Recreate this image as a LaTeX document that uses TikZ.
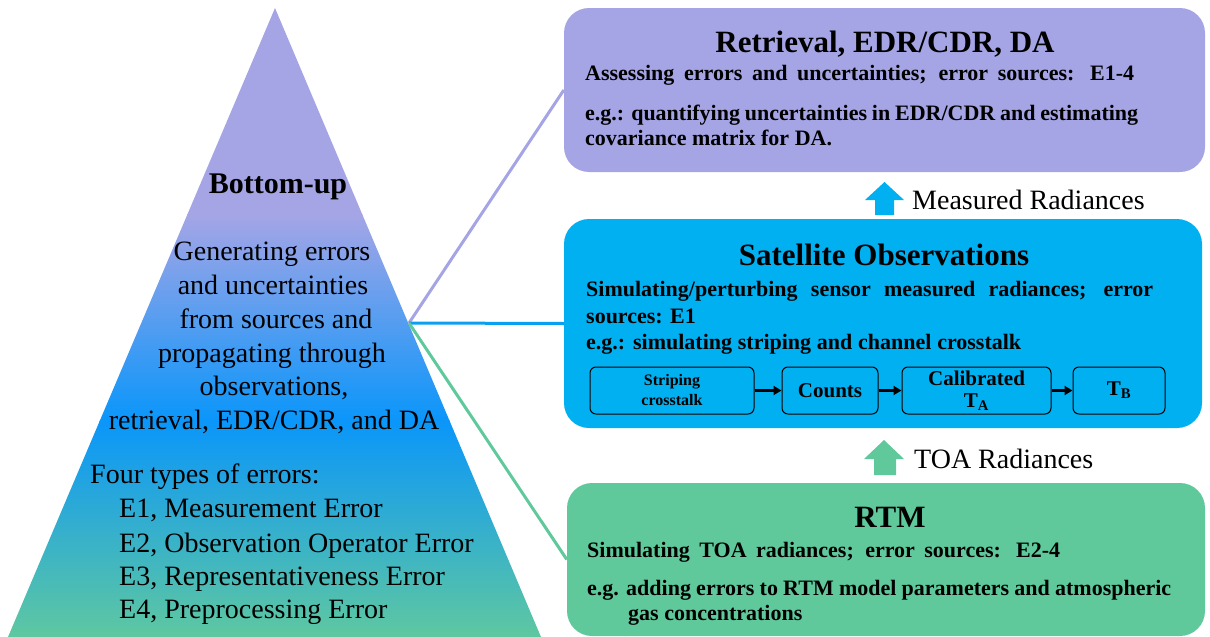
\documentclass[tikz,border=0pt]{standalone}
\usepackage{fontspec}
\setmainfont{Liberation Serif}
\usetikzlibrary{arrows.meta}
\definecolor{cpur}{RGB}{165,165,230}
\definecolor{cblue}{RGB}{0,176,240}
\definecolor{cgreen}{RGB}{95,201,156}
\definecolor{tblue}{RGB}{10,150,250}
\definecolor{tgreen}{RGB}{95,200,160}
\definecolor{lblue}{RGB}{10,160,240}
\newcommand{\fillto}[2]{\makebox[#1][s]{#2}}
\begin{document}
\begin{tikzpicture}[x=1pt,y=-1pt,
  bigbox/.style={rounded corners=25pt, inner sep=0pt},
  title/.style={font=\fontsize{31}{36}\selectfont\bfseries, anchor=base, inner sep=0pt},
  body/.style={font=\fontsize{22}{26}\selectfont\bfseries, anchor=base west, inner sep=0pt},
  tri/.style={font=\fontsize{28}{33}\selectfont, anchor=base, inner sep=0pt},
  trl/.style={font=\fontsize{28}{33}\selectfont, anchor=base west, inner sep=0pt},
  small/.style={draw=black, line width=1pt, rounded corners=6pt, fill=cblue, minimum height=47pt, inner sep=0pt, align=center, font=\fontsize{21}{23}\selectfont\bfseries},
  flow/.style={-{Triangle[length=8pt,width=9pt]}, line width=2.5pt},
  conn/.style={line width=3pt}]
\useasboundingbox (0,0) rectangle (1210,637);
% triangle
\begin{scope}
\clip (275,8) -- (541,637) -- (8,637) -- cycle;
\fill[cpur] (0,0) rectangle (560,215);
\shade[top color=cpur,bottom color=tblue] (0,214) rectangle (560,421);
\shade[top color=tblue,bottom color=tgreen] (0,420) rectangle (560,638);
\end{scope}
\node[tri, font=\fontsize{30}{36}\selectfont\bfseries] (bu) at (278,193) {Bottom-up};
\node[tri] (g1) at (272,260) {Generating errors};
\node[tri] (g2) at (273,294) {and uncertainties};
\node[tri] (g3) at (276,328) {from sources and};
\node[tri] (g4) at (272,362) {propagating through};
\node[tri] (g5) at (274,395) {observations,};
\node[tri] (g6) at (274,429) {retrieval, EDR/CDR, and DA};
\node[trl] (f0) at (90,483) {Four types of errors:};
\node[trl] (f1) at (119,517) {E1, Measurement Error};
\node[trl] (f2) at (119,552) {E2, Observation Operator Error};
\node[trl] (f3) at (119,585) {E3, Representativeness Error};
\node[trl] (f4) at (119,618) {E4, Preprocessing Error};
% boxes
\node[bigbox, fill=cpur, minimum width=641pt, minimum height=164pt] (ret) at (884.5,90) {};
\node[bigbox, fill=cblue, minimum width=638pt, minimum height=209pt] (sat) at (883,323.5) {};
\node[bigbox, fill=cgreen, minimum width=638pt, minimum height=153pt] (rtm) at (886,559.5) {};
% connectors
\coordinate (hub) at (409,323);
\draw[conn, cpur] (hub) -- (ret.west);
\draw[conn, lblue] (hub) -- (sat.west);
\draw[conn, cgreen] (hub) -- (rtm.west);
% retrieval text
\node[title] (rett) at (885,52) {Retrieval, EDR/CDR, DA};
\node[body] (ret1) at (585,80) {\fillto{549pt}{Assessing errors and uncertainties; error sources: E1-4}};
\node[body] (ret2) at (585,120) {\fillto{553pt}{e.g.: quantifying uncertainties in EDR/CDR and estimating}};
\node[body] (ret3) at (585,145) {covariance matrix for DA.};
% satellite text
\node[title] (satt) at (884,265) {Satellite Observations};
\node[body] (sat1) at (586,296) {\fillto{567pt}{Simulating/perturbing sensor measured radiances; error}};
\node[body] (sat2) at (586,323) {sources: E1};
\node[body] (sat3) at (586,349) {\fillto{435pt}{e.g.: simulating striping and channel crosstalk}};
% small flow boxes
\node[small, minimum width=164pt, font=\fontsize{16}{20}\selectfont\bfseries] (b1) at (672,390.5) {Striping\\crosstalk};
\node[small, minimum width=96pt] (b2) at (830,390.5) {Counts};
\node[small, minimum width=149pt, font=\fontsize{21}{22}\selectfont\bfseries] (b3) at (976.5,390.5) {Calibrated\\T\textsubscript{A}};
\node[small, minimum width=92pt] (b4) at (1119,390.5) {T\textsubscript{B}};
\draw[flow] (b1) -- (b2);
\draw[flow] (b2) -- (b3);
\draw[flow] (b3) -- (b4);
% block arrows
\fill[cblue] (884.5,182) -- (904,200) -- (894,200) -- (894,215) -- (875,215) -- (875,200) -- (865,200) -- cycle;
\node[trl] (mr) at (912,209) {Measured Radiances};
\fill[cgreen] (884,440) -- (904,459) -- (896,459) -- (896,475) -- (874,475) -- (874,459) -- (864,459) -- cycle;
\node[trl] (toa) at (914,468) {TOA Radiances};
% RTM text
\node[title] (rtmt) at (890,527) {RTM};
\node[body] (rtm1) at (587,557) {\fillto{473pt}{Simulating TOA radiances; error sources: E2-4}};
\node[body] (rtm2) at (587,595) {\fillto{584pt}{e.g. adding errors to RTM model parameters and atmospheric}};
\node[body] (rtm3) at (628,620) {gas concentrations};
\end{tikzpicture}
\end{document}
